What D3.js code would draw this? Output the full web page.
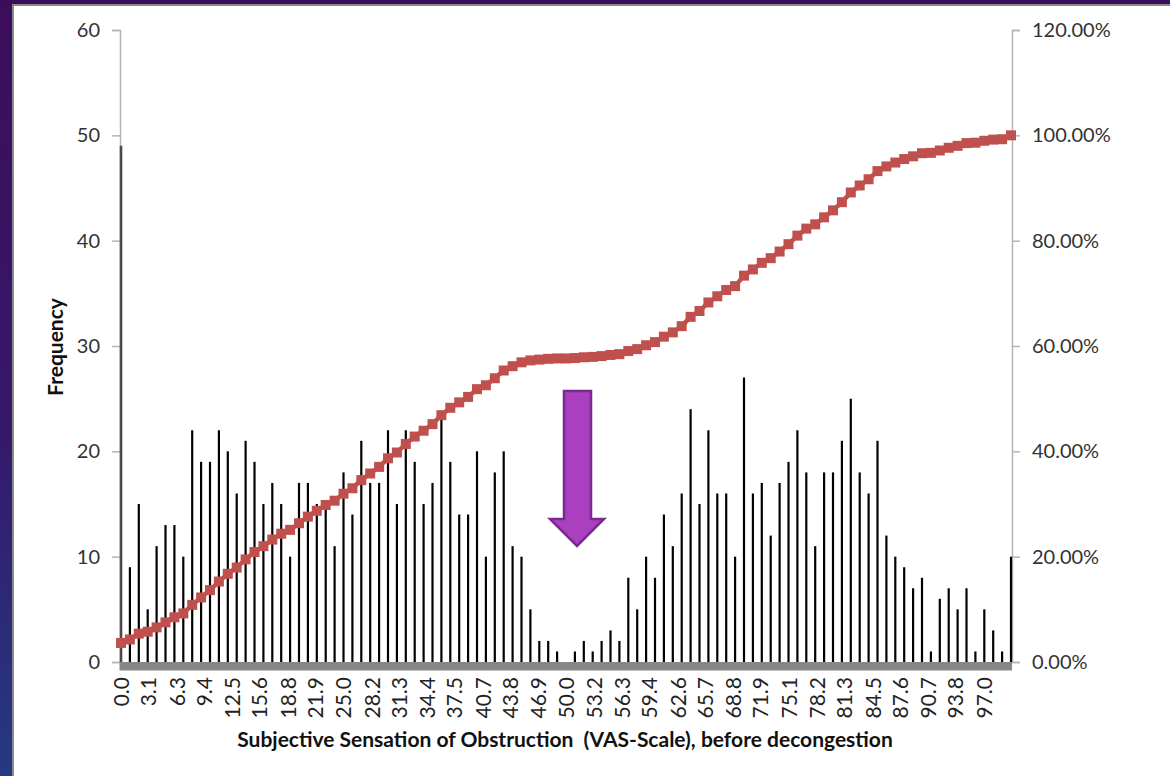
<!DOCTYPE html>
<html>
<head>
<meta charset="utf-8">
<script src="https://cdn.jsdelivr.net/npm/d3@7"></script>
<style>
  html, body { margin: 0; padding: 0; background: #fff; }
  svg { display: block; }
</style>
</head>
<body>
<svg id="chart" width="1170" height="776"></svg>
<script>
// VAS score bins (0–100) and the number of patients in each bin
const bins = [
  0, 1, 2, 3, 4, 5, 6, 7, 8, 9,
  10, 11, 12, 13, 14, 15, 16, 17, 18, 19,
  20, 21, 22, 23, 24, 25, 26, 27, 28, 29,
  30, 31, 32, 33, 34, 35, 36, 37, 38, 39,
  40, 41, 42, 43, 44, 45, 46, 47, 48, 49,
  50, 51, 52, 53, 54, 55, 56, 57, 58, 59,
  60, 61, 62, 63, 64, 65, 66, 67, 68, 69,
  70, 71, 72, 73, 74, 75, 76, 77, 78, 79,
  80, 81, 82, 83, 84, 85, 86, 87, 88, 89,
  90, 91, 92, 93, 94, 95, 96, 97, 98, 99,
  100
];
const frequency = [
  49, 9, 15, 5, 11, 13, 13, 10, 22, 19,
  19, 22, 20, 16, 21, 19, 15, 17, 15, 10,
  17, 17, 15, 15, 11, 18, 14, 21, 17, 17,
  22, 15, 22, 19, 15, 17, 23, 19, 14, 14,
  20, 10, 18, 20, 11, 10, 5, 2, 2, 1,
  0, 1, 2, 1, 2, 3, 2, 8, 5, 10,
  8, 14, 11, 16, 24, 15, 22, 16, 16, 10,
  27, 16, 17, 12, 17, 19, 22, 18, 11, 18,
  18, 21, 25, 18, 16, 21, 12, 10, 9, 7,
  8, 1, 6, 7, 5, 7, 1, 5, 3, 1,
  10
];
// Category axis labels along the VAS scale
const xTickLabels = [
  "0.0", "3.1", "6.3", "9.4", "12.5", "15.6", "18.8", "21.9", "25.0", "28.2",
  "31.3", "34.4", "37.5", "40.7", "43.8", "46.9", "50.0", "53.2", "56.3", "59.4",
  "62.6", "65.7", "68.8", "71.9", "75.1", "78.2", "81.3", "84.5", "87.6", "90.7",
  "93.8", "97.0"
];
const freqTicks = [0, 10, 20, 30, 40, 50, 60];
const pctTicks = [0, 0.2, 0.4, 0.6, 0.8, 1.0, 1.2];

const svg = d3.select("#chart");
const W = 1170, H = 776;
const FONT = "Lato, 'Open Sans', sans-serif";

// Frame: dark slide background peeking in along the left and top edges
const defs = svg.append("defs");
const grad = defs.append("linearGradient").attr("id", "edge").attr("x1", 0).attr("y1", 0).attr("x2", 0).attr("y2", 1);
grad.append("stop").attr("offset", "0%").attr("stop-color", "#3c0d5b");
grad.append("stop").attr("offset", "55%").attr("stop-color", "#36186a");
grad.append("stop").attr("offset", "100%").attr("stop-color", "#243a82");
svg.append("rect").attr("x", 0).attr("y", 0).attr("width", W).attr("height", H).attr("fill", "url(#edge)");
svg.append("rect").attr("x", 12).attr("y", 4).attr("width", W - 12).attr("height", H - 4).attr("fill", "#8a8a8a");
svg.append("rect").attr("x", 14).attr("y", 6).attr("width", W - 14).attr("height", H - 6).attr("fill", "#ffffff");

const x0 = 121, x1 = 1011, yTop = 30, yBase = 662;
const x = d3.scaleLinear().domain([0, 100]).range([x0, x1]);
const yL = d3.scaleLinear().domain([0, 60]).range([yBase, yTop]);
const yR = d3.scaleLinear().domain([0, 1.2]).range([yBase, yTop]);

// Left frequency axis
const leftAxis = d3.axisLeft(yL).tickValues(freqTicks).tickSize(8).tickPadding(12).tickFormat(d3.format("d"));
const gL = svg.append("g").attr("transform", `translate(${x0 - 1},0)`).call(leftAxis);
gL.select(".domain").attr("stroke", "#b4b4b4").attr("stroke-width", 1.5);
gL.selectAll(".tick line").attr("stroke", "#b4b4b4").attr("stroke-width", 1.5);
gL.selectAll(".tick text").attr("font-family", FONT).attr("font-size", 20).attr("fill", "#333");

// Right cumulative-percentage axis
const rightAxis = d3.axisRight(yR).tickValues(pctTicks).tickSize(8).tickPadding(12).tickFormat(d3.format(".2%"));
const gR = svg.append("g").attr("transform", `translate(${x1 + 1},0)`).call(rightAxis);
gR.select(".domain").attr("stroke", "#b4b4b4").attr("stroke-width", 1.5);
gR.selectAll(".tick line").attr("stroke", "#b4b4b4").attr("stroke-width", 1.5);
gR.selectAll(".tick text").attr("font-family", FONT).attr("font-size", 20).attr("fill", "#333");

// Frequency bars (thin spikes)
svg.append("g").selectAll("line.bar")
  .data(bins)
  .join("line")
  .attr("class", "bar")
  .attr("x1", (d) => x(d)).attr("x2", (d) => x(d))
  .attr("y1", yBase)
  .attr("y2", (d, i) => yL(frequency[i]))
  .attr("stroke", (d, i) => i === 0 ? "#4a4a4a" : "#000")
  .attr("stroke-width", (d, i) => i === 0 ? 2.6 : 2.2);

// Thick grey category axis band
svg.append("rect")
  .attr("x", x0 - 1.5).attr("y", yBase)
  .attr("width", x1 - x0 + 2.5).attr("height", 8.5)
  .attr("fill", "#878787");

// Category tick labels, rotated
const gX = svg.append("g");
gX.selectAll("text")
  .data(xTickLabels)
  .join("text")
  .attr("transform", (d) => `translate(${x(+d)},${yBase + 15}) rotate(-90)`)
  .attr("text-anchor", "end")
  .attr("dy", "0.36em")
  .attr("font-family", FONT)
  .attr("font-size", 21)
  .attr("fill", "#222")
  .text((d) => d);

// Cumulative percentage line with square markers
const total = d3.sum(frequency);
const cumPct = Array.from(d3.cumsum(frequency), (c) => c / total);
const line = d3.line().x((d, i) => x(bins[i])).y((d) => yR(d));
svg.append("path")
  .datum(cumPct)
  .attr("d", line)
  .attr("fill", "none")
  .attr("stroke", "#c0504d")
  .attr("stroke-width", 4.5);
const m = 10;
svg.append("g").selectAll("rect")
  .data(cumPct)
  .join("rect")
  .attr("x", (d, i) => x(bins[i]) - m / 2)
  .attr("y", (d) => yR(d) - m / 2)
  .attr("width", m).attr("height", m)
  .attr("fill", "#c0504d");

// Axis titles
svg.append("text")
  .attr("transform", "translate(63,347) rotate(-90)")
  .attr("text-anchor", "middle")
  .attr("font-family", FONT).attr("font-weight", 700).attr("font-size", 21)
  .attr("fill", "#111")
  .text("Frequency");
svg.append("text")
  .attr("x", 565).attr("y", 747)
  .attr("text-anchor", "middle")
  .attr("font-family", FONT).attr("font-weight", 700).attr("font-size", 21)
  .attr("fill", "#111")
  .attr("xml:space", "preserve")
  .style("white-space", "pre")
  .text("Subjective Sensation of Obstruction  (VAS-Scale), before decongestion");

// Arrow marking the gap around the middle of the scale
const arrow = [[564, 391], [591, 391], [591, 519], [604, 519], [577, 546], [550, 519], [564, 519]];
svg.append("polygon")
  .attr("points", arrow.map((p) => p.join(",")).join(" "))
  .attr("fill", "#aa3fc0")
  .attr("stroke", "#7a2990")
  .attr("stroke-width", 2.5)
  .attr("stroke-linejoin", "miter");
</script>
</body>
</html>
